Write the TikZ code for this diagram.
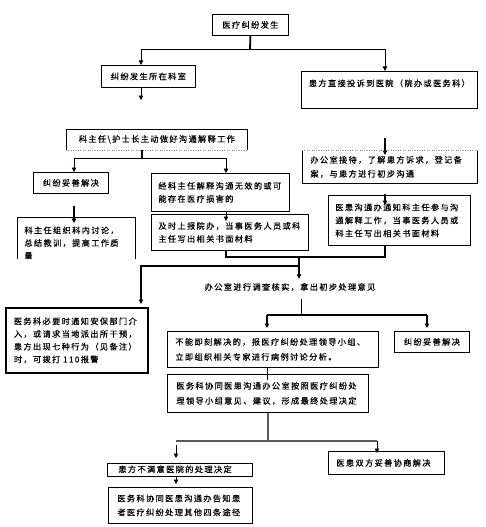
\documentclass[tikz,border=0pt]{standalone}
\usepackage{fontspec}
\newfontfamily\cjk[LetterSpace=16.5,FakeBold=0.4]{Noto Sans CJK SC}
\usetikzlibrary{arrows.meta}
\begin{document}
\begin{tikzpicture}[x=1pt,y=-1pt,
  lsk/.style={font=\cjk\fontsize{8.2}{#1}\selectfont},
  bx/.style={draw,line width=0.8pt,inner xsep=7pt,inner ysep=0pt,anchor=north west,align=left,lsk=13.5},
  cbx/.style={bx,align=center},
  arr/.style={line width=0.8pt,-{Triangle[length=4.5pt,width=4.5pt]}},
  ln/.style={line width=0.8pt},
  thk/.style={line width=1.8pt},
  gln/.style={line width=1.4pt,black!65}]
\useasboundingbox (0,0) rectangle (485,527);

% boxes
\node[cbx,minimum width=76pt,minimum height=21pt] (b1) at (212,14) {医疗纠纷发生};
\node[cbx,minimum width=94pt,minimum height=22pt] (b2) at (101,65) {纠纷发生所在科室};
\node[cbx,minimum width=176pt,minimum height=37pt,text height=8pt,text depth=15pt] (b3) at (301,71) {患方直接投诉到医院（院办或医务科）};
\node[cbx,draw=none,minimum width=181pt,minimum height=20pt] (b4) at (66,129) {科主任\textbackslash 护士长主动做好沟通解释工作};
\node[cbx,minimum width=75pt,minimum height=21pt] (b5) at (33,172) {纠纷妥善解决};
\node[bx,minimum width=138pt,minimum height=38pt,text width=124pt,lsk=13] (b6) at (151,173) {经科主任解释沟通无效的或可\\能存在医疗损害的};
\node[bx,minimum width=157pt,minimum height=36pt,text width=143pt,lsk=13] (b8) at (151,214) {及时上报院办，当事医务人员或科\\主任写出相关书面材料};
\begin{scope}
  \clip (0,200) rectangle (485,258);
  \node[bx,draw=none,minimum width=118pt,minimum height=51pt,text width=104pt,lsk=12.7] (b7) at (17,217) {科主任组织科内讨论，\\总结教训，提高工作质\\量};
\end{scope}
\node[bx,draw=none,minimum width=175pt,minimum height=33pt,inner xsep=8pt,text width=159pt,lsk=14] (b10) at (302,150) {办公室接待，了解患方诉求，登记备\\案，与患方进行初步沟通};
\node[bx,minimum width=142pt,minimum height=50pt,text width=128pt,lsk=13] (b11) at (328,195) {医患沟通办通知科主任参与沟\\通解释工作，当事医务人员或\\科主任写出相关书面材料};
\node[lsk=13.5,inner sep=2pt] (t) at (290,287) {办公室进行调查核实，拿出初步处理意见};
\node[bx,line width=1.8pt,minimum width=142pt,minimum height=65pt,inner xsep=8pt,text width=126pt,lsk=12.7] (b9) at (5,307) {医务科必要时通知安保部门介\\入，或请求当地派出所干预，\\患方出现七种行为（见备注）\\时，可拨打 110报警};
\node[bx,minimum width=211pt,minimum height=36pt,inner xsep=8pt,text width=195pt,lsk=15] (b12) at (167,331) {不能即刻解决的，报医疗纠纷处理领导小组、\\立即组织相关专家进行病例讨论分析。};
\node[cbx,minimum width=75pt,minimum height=21pt] (b13) at (394,331) {纠纷妥善解决};
\node[bx,minimum width=201pt,minimum height=38pt,inner xsep=9pt,text width=183pt,lsk=15] (b14) at (167,374) {医务科协同医患沟通办公室按照医疗纠纷处\\理领导小组意见、建议，形成最终处理决定};
\node[bx,minimum width=145pt,minimum height=13pt,inner xsep=11pt,text width=123pt,text height=6.5pt,text depth=1.5pt] (b15) at (107,463) {患方不满意医院的处理决定};
\node[bx,minimum width=116pt,minimum height=23pt,inner xsep=8pt,text width=100pt] (b16) at (328,451) {医患双方妥善协商解决};
\node[bx,minimum width=144pt,minimum height=36pt,inner xsep=9pt,text width=126pt,lsk=14] (b17) at (108,487) {医务科协同医患沟通办告知患\\者医疗纠纷处理其他四条途径};

% partial borders
\draw[ln] (b4.south west) -- (b4.north west) -- (b4.north east) -- (b4.south east);
\draw[black!45,dotted] (b4.south west) -- (b4.south east);
\draw[ln] (b10.north west) -- (b10.south west) -- (b10.south east) -- (b10.north east);
\draw[black!45,dotted] (b10.north west) -- (b10.north east);
\draw[ln] ([yshift=10pt]b7.south west) -- (b7.north west) -- (b7.north east) -- ([yshift=10pt]b7.south east);

% junction coordinates
\coordinate (j1) at (250,49);
\coordinate (j1l) at (141,49);
\coordinate (j1r) at (385,49);
\coordinate (e2) at (141,100);
\coordinate (j4) at (142,158);
\coordinate (j4l) at (74,158);
\coordinate (j4r) at (226,158);
\coordinate (m1) at (226,257);
\coordinate (m2) at (385,257);
\coordinate (j8) at (299,257);
\coordinate (j9) at (299,266);
\coordinate (j12) at (301,315);
\coordinate (j12l) at (267,315);
\coordinate (j12r) at (427,315);
\coordinate (j14) at (268,441);
\coordinate (j14l) at (176,441);
\coordinate (j14r) at (377,441);

% connectors
\draw[thk] (b1.south) -- (j1);
\draw[ln] (j1l) -- (j1r);
\draw[arr] (j1l) -- (b2.north -| j1l);
\draw[arr] (j1r) -- (b3.north -| j1r);
\draw[arr] (b2.south -| e2) -- (e2);

\draw[thk] (b4.south -| j4) -- (j4);
\draw[ln] (j4l) -- (j4r);
\draw[arr] (j4l) -- (b5.north -| j4l);
\draw[arr] (j4r) -- (b6.north -| j4r);
\draw[arr,line width=2pt,shorten <=12pt,shorten >=-6pt] (b5.south -| j4l) -- (b7.north -| j4l);
\draw[arr,shorten >=-7pt] (b6.south -| j4r) -- (b8.north -| j4r);

\draw[arr,line width=1.6pt,shorten <=29pt,shorten >=-5pt] (b3.south -| j1r) -- (b10.north -| j1r);
\draw[arr,line width=1.6pt,shorten <=10pt,shorten >=-10pt] (b10.south -| j1r) -- (b11.north -| j1r);

\draw[thk] (b8.south -| m1) -- (m1) -- (m2) -- (b11.south -| m2);
\draw[arr,line width=1.2pt,shorten >=2pt] (j8) -- (t.north -| j8);
\draw[arr,line width=1.2pt,shorten >=3pt] (j9) -| (b9.north -| e2) ;

\draw[ln,shorten <=6pt] (t.south -| j12) -- (j12);
\draw[thk] (j12l) -- (j12r);
\draw[arr,line width=1.4pt,shorten >=3pt] (j12l) -- (b12.north -| j12l);
\draw[arr,line width=1.4pt,shorten >=3pt] (j12r) -- (b13.north -| j12r);
\draw[ln,shorten >=-6pt] (b12.south -| j12l) -- (b14.north -| j12l);

\draw[line width=2pt,black!65] (b14.south -| j14) -- (j14);
\draw[gln] (j14l) -- (j14r);
\draw[arr,shorten <=4pt,shorten >=5pt] (j14l) -- (b15.north -| j14l);
\draw[arr,shorten >=-2pt] (j14r) -- (b16.north -| j14r);
\draw[arr,shorten >=3pt] (b15.south -| j14l) -- (b17.north -| j14l);
\end{tikzpicture}
\end{document}
